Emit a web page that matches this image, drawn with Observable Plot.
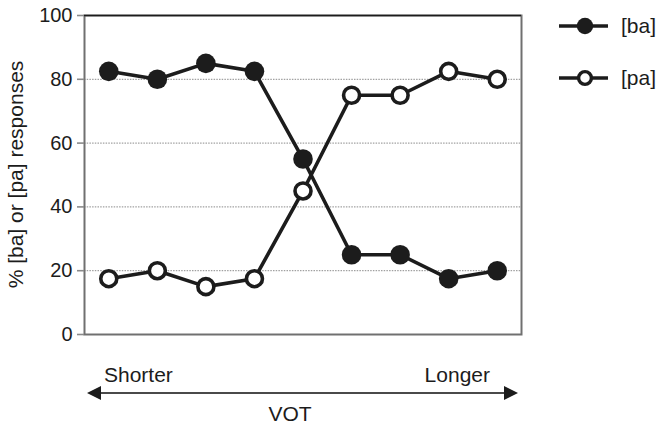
<!DOCTYPE html>
<html>
<head>
<meta charset="utf-8">
<script src="https://cdn.jsdelivr.net/npm/d3@7"></script>
<script src="https://cdn.jsdelivr.net/npm/@observablehq/plot@0.6"></script>
<style>
  html, body { margin: 0; padding: 0; background: white; }
  #chart { width: 657px; height: 427px; }
</style>
</head>
<body>
<div id="chart"></div>
<script>
// ---- data ----
const steps = [1, 2, 3, 4, 5, 6, 7, 8, 9];
const baValues = [82.5, 80, 85, 82.5, 55, 25, 25, 17.5, 20];
const paValues = [17.5, 20, 15, 17.5, 45, 75, 75, 82.5, 80];
const seriesNames = ["[ba]", "[pa]"];
const yTicks = [0, 20, 40, 60, 80, 100];
const gridTicks = [20, 40, 60, 80];
const yLabel = "% [ba] or [pa] responses";
const endLabels = ["Shorter", "Longer"];
const xLabel = "VOT";

const ink = "#1c1c1c";
const font = "'Liberation Sans', Arial, Helvetica, sans-serif";

const ba = steps.map((s, i) => ({step: s, value: baValues[i]}));
const pa = steps.map((s, i) => ({step: s, value: paValues[i]}));

const W = 657, H = 427;
const mL = 84, mR = 136, mT = 15, mB = 93;

const plot = Plot.plot({
  width: W,
  height: H,
  marginLeft: mL,
  marginRight: mR,
  marginTop: mT,
  marginBottom: mB,
  style: {fontFamily: font, fontSize: "20px", color: ink, background: "white", overflow: "visible"},
  x: {domain: [0.5, 9.5], axis: null},
  y: {domain: [0, 100], axis: null},
  marks: [
    Plot.gridY(gridTicks, {stroke: "#8a8a8a", strokeOpacity: 1, strokeWidth: 1, strokeDasharray: "1.5,1.2"}),
    Plot.frame({stroke: "#707070", strokeWidth: 2}),
    Plot.ruleY([100], {stroke: ink, strokeWidth: 1.6}),
    Plot.axisY(yTicks, {tickSize: 7, tickPadding: 5, stroke: "#8a8a8a", strokeWidth: 1.6, fill: ink, fontSize: 20, label: null}),
    Plot.line(ba, {x: "step", y: "value", stroke: ink, strokeWidth: 3.6}),
    Plot.line(pa, {x: "step", y: "value", stroke: ink, strokeWidth: 3.6}),
    Plot.dot(ba, {x: "step", y: "value", r: 9.8, fill: ink, stroke: "none"}),
    Plot.dot(pa, {x: "step", y: "value", r: 8, fill: "white", stroke: ink, strokeWidth: 3.6})
  ]
});

document.getElementById("chart").appendChild(plot);

// ---- annotations (legend, axis label, VOT arrow) ----
const svg = d3.select(plot);
const x0 = mL, x1 = W - mR;
const fs = 21;

function addText(x, y, str, anchor, extra) {
  const t = svg.append("text")
    .attr("x", x).attr("y", y)
    .attr("text-anchor", anchor)
    .attr("font-family", font)
    .attr("font-size", fs)
    .attr("fill", ink)
    .text(str);
  if (extra) extra(t);
  return t;
}

// y-axis title
svg.append("text")
  .attr("transform", `translate(17, ${mT + (H - mT - mB) / 2}) rotate(-90)`)
  .attr("text-anchor", "middle")
  .attr("dominant-baseline", "middle")
  .attr("font-family", font)
  .attr("font-size", fs)
  .attr("fill", ink)
  .text(yLabel);

// legend
seriesNames.forEach((name, i) => {
  const cy = 26 + i * 52;
  const g = svg.append("g");
  g.append("line").attr("x1", 559).attr("x2", 608).attr("y1", cy).attr("y2", cy)
    .attr("stroke", ink).attr("stroke-width", 3.6);
  if (i === 0) {
    g.append("circle").attr("cx", 585).attr("cy", cy).attr("r", 8.2).attr("fill", ink);
  } else {
    g.append("circle").attr("cx", 585).attr("cy", cy).attr("r", 6.4).attr("fill", "white")
      .attr("stroke", ink).attr("stroke-width", 3.4);
  }
  addText(621, cy + 7, name, "start");
});

// Shorter / Longer labels
addText(104, 382, endLabels[0], "start");
addText(490, 382, endLabels[1], "end");

// VOT arrow
const ay = 393;
svg.append("line").attr("x1", 96).attr("x2", 508).attr("y1", ay).attr("y2", ay)
  .attr("stroke", "#4a4a4a").attr("stroke-width", 2);
svg.append("path").attr("d", `M87,${ay} L101,${ay - 7} L101,${ay + 7} Z`).attr("fill", ink);
svg.append("path").attr("d", `M518,${ay} L504,${ay - 7} L504,${ay + 7} Z`).attr("fill", ink);

addText(290, 421, xLabel, "middle");
</script>
</body>
</html>
